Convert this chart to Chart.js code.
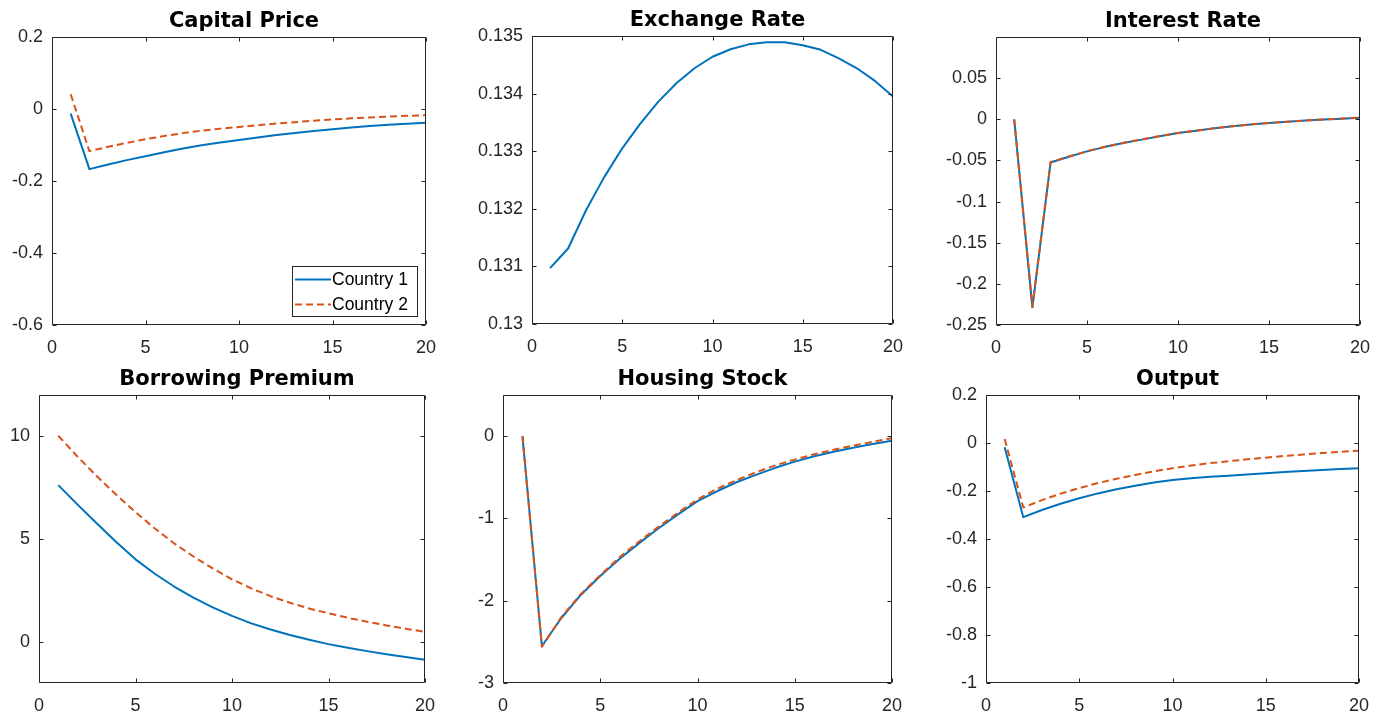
<!DOCTYPE html>
<html>
<head>
<meta charset="utf-8">
<script src="https://cdn.jsdelivr.net/npm/chart.js@4.4.1/dist/chart.umd.min.js"></script>
<style>
  html, body { margin: 0; padding: 0; background: #fff; overflow: hidden; }
  body { width: 1382px; height: 718px; position: relative; }
  canvas { position: absolute; }
</style>
</head>
<body>
<script>
// periods after the shock
const periods = [1, 2, 3, 4, 5, 6, 7, 8, 9, 10, 11, 12, 13, 14, 15, 16, 17, 18, 19, 20];
const seriesNames = ['Country 1', 'Country 2'];

const capPrice1 = [-0.013, -0.167, -0.154, -0.142, -0.131, -0.120, -0.110, -0.101, -0.093, -0.086, -0.079, -0.0725, -0.0665, -0.061, -0.056, -0.0515, -0.0475, -0.044, -0.041, -0.038];
const capPrice2 = [0.041, -0.117, -0.105, -0.094, -0.084, -0.075, -0.067, -0.060, -0.0545, -0.050, -0.045, -0.0405, -0.0365, -0.0325, -0.029, -0.026, -0.0235, -0.021, -0.019, -0.017];
const exRate1 = [0.13097, 0.13131, 0.13198, 0.13255, 0.13305, 0.13348, 0.13386, 0.13418, 0.13444, 0.13464, 0.13477, 0.134855, 0.13489, 0.13489, 0.13484, 0.13476, 0.13461, 0.13444, 0.13422, 0.13395];
const intRate1 = [0.000, -0.2285, -0.0525, -0.0455, -0.0390, -0.0335, -0.0288, -0.0247, -0.0205, -0.0168, -0.0138, -0.0110, -0.0085, -0.0063, -0.0045, -0.0030, -0.0015, -0.0003, 0.0008, 0.0020];
const intRate2 = [0.000, -0.2280, -0.0520, -0.0452, -0.0388, -0.0333, -0.0286, -0.0245, -0.0204, -0.0167, -0.0137, -0.0109, -0.0084, -0.0062, -0.0044, -0.0029, -0.0014, -0.0002, 0.0009, 0.0021];
const premium1 = [7.62, 6.67, 5.75, 4.85, 4.01, 3.31, 2.69, 2.15, 1.68, 1.26, 0.90, 0.60, 0.33, 0.10, -0.11, -0.29, -0.45, -0.60, -0.74, -0.87];
const premium2 = [10.02, 9.00, 8.05, 7.15, 6.31, 5.51, 4.79, 4.15, 3.57, 3.04, 2.60, 2.22, 1.90, 1.62, 1.39, 1.17, 0.98, 0.80, 0.64, 0.49];
const housing1 = [0.00, -2.55, -2.21, -1.93, -1.70, -1.49, -1.30, -1.12, -0.95, -0.79, -0.67, -0.56, -0.47, -0.385, -0.31, -0.245, -0.19, -0.14, -0.095, -0.055];
const housing2 = [0.00, -2.56, -2.20, -1.92, -1.69, -1.47, -1.28, -1.10, -0.93, -0.77, -0.64, -0.535, -0.44, -0.355, -0.285, -0.22, -0.165, -0.115, -0.07, -0.025];
const output1 = [-0.018, -0.309, -0.279, -0.253, -0.230, -0.210, -0.193, -0.178, -0.165, -0.154, -0.147, -0.141, -0.136, -0.131, -0.126, -0.121, -0.1165, -0.1125, -0.1085, -0.105];
const output2 = [0.017, -0.269, -0.238, -0.211, -0.188, -0.167, -0.149, -0.133, -0.118, -0.105, -0.094, -0.084, -0.076, -0.068, -0.061, -0.054, -0.048, -0.042, -0.037, -0.032];

// tick labels
const xTicks = [0, 5, 10, 15, 20];
const capTicks = [-0.6, -0.4, -0.2, 0, 0.2];
const exTicks = [0.13, 0.131, 0.132, 0.133, 0.134, 0.135];
const intTicks = [-0.25, -0.2, -0.15, -0.1, -0.05, 0, 0.05];
const premTicks = [0, 5, 10];
const houseTicks = [-3, -2, -1, 0];
const outTicks = [-1, -0.8, -0.6, -0.4, -0.2, 0, 0.2];

const BLUE = '#0072BD';
const ORANGE = '#D95319';
const AXIS = '#262626';

const panels = [
  { title: 'Capital Price', series: [capPrice1, capPrice2], yTicks: capTicks, yMin: -0.6, yMax: 0.2, left: 52, top: 37, w: 374, legend: true },
  { title: 'Exchange Rate', series: [exRate1], yTicks: exTicks, yMin: 0.13, yMax: 0.135, left: 532, top: 36, w: 361 },
  { title: 'Interest Rate', series: [intRate1, intRate2], yTicks: intTicks, yMin: -0.25, yMax: 0.1, left: 996, top: 37, w: 364 },
  { title: 'Borrowing Premium', series: [premium1, premium2], yTicks: premTicks, yMin: -2, yMax: 12, left: 39, top: 395, w: 386 },
  { title: 'Housing Stock', series: [housing1, housing2], yTicks: houseTicks, yMin: -3, yMax: 0.5, left: 503, top: 395, w: 389 },
  { title: 'Output', series: [output1, output2], yTicks: outTicks, yMin: -1, yMax: 0.2, left: 986, top: 395, w: 373 }
];

const Y_W = 64, TITLE_H = 37, PLOT_H = 288, X_H = 36, PAD_R = 30;

// box round the axes with MATLAB-style inward ticks on all four sides
const axesBox = {
  id: 'axesBox',
  afterLayout(chart) {
    // MATLAB's titles sit a little right of the axes centre
    if (chart.titleBlock) { chart.titleBlock.left += 5; chart.titleBlock.right += 5; }
  },
  afterDraw(chart) {
    const ctx = chart.ctx, a = chart.chartArea;
    const L = Math.round(a.left) + 0.5, R = Math.round(a.right) - 0.5;
    const T = Math.round(a.top) + 0.5, B = Math.round(a.bottom) - 0.5;
    ctx.save();
    ctx.strokeStyle = AXIS;
    ctx.lineWidth = 1;
    ctx.beginPath();
    ctx.rect(L, T, R - L, B - T);
    chart.scales.x.ticks.forEach(t => {
      const px = Math.round(chart.scales.x.getPixelForValue(t.value)) + 0.5;
      ctx.moveTo(px, B); ctx.lineTo(px, B - 4);
      ctx.moveTo(px, T); ctx.lineTo(px, T + 4);
    });
    chart.scales.y.ticks.forEach(t => {
      const py = Math.round(chart.scales.y.getPixelForValue(t.value)) + 0.5;
      ctx.moveTo(L, py); ctx.lineTo(L + 4, py);
      ctx.moveTo(R, py); ctx.lineTo(R - 4, py);
    });
    ctx.stroke();
    ctx.restore();
  }
};

// legend drawn inside the axes, lower right, from the dataset styles
const boxLegend = {
  id: 'boxLegend',
  afterDraw(chart) {
    const ctx = chart.ctx, a = chart.chartArea;
    const w = 125, h = 50;
    const x0 = Math.round(a.right - 9 - w), y0 = Math.round(a.bottom - 9 - h);
    ctx.save();
    ctx.fillStyle = '#fff';
    ctx.fillRect(x0, y0, w, h);
    ctx.strokeStyle = AXIS;
    ctx.lineWidth = 1;
    ctx.strokeRect(x0 + 0.5, y0 + 0.5, w, h);
    chart.data.datasets.forEach((ds, i) => {
      const cy = y0 + 13.5 + i * 25;
      ctx.strokeStyle = ds.borderColor;
      ctx.lineWidth = ds.borderWidth;
      ctx.setLineDash(ds.borderDash || []);
      ctx.beginPath();
      ctx.moveTo(x0 + 3, cy);
      ctx.lineTo(x0 + 39, cy);
      ctx.stroke();
      ctx.setLineDash([]);
      ctx.fillStyle = '#000';
      ctx.font = '17.5px "Liberation Sans", Arial, sans-serif';
      ctx.textBaseline = 'middle';
      ctx.textAlign = 'left';
      ctx.fillText(ds.label, x0 + 40, cy + 1);
    });
    ctx.restore();
  }
};

function fmt(v) {
  return String(Number(v.toFixed(4)));
}

panels.forEach(p => {
  const cv = document.createElement('canvas');
  const W = Y_W + p.w + PAD_R, H = TITLE_H + PLOT_H + X_H;
  cv.width = W; cv.height = H;
  cv.style.left = (p.left - Y_W) + 'px';
  cv.style.top = (p.top - TITLE_H) + 'px';
  cv.style.width = W + 'px'; cv.style.height = H + 'px';
  document.body.appendChild(cv);

  const datasets = p.series.map((vals, i) => ({
    label: seriesNames[i],
    data: periods.map((x, k) => ({ x: x, y: vals[k] })),
    borderColor: i === 0 ? BLUE : ORANGE,
    borderWidth: 2,
    borderDash: i === 0 ? [] : [7, 4],
    borderJoinStyle: 'round',
    pointRadius: 0,
    tension: 0,
    fill: false,
    order: i === 0 ? 1 : 0
  }));

  const tickFont = { family: '"Liberation Sans", Arial, sans-serif', size: 18 };

  new Chart(cv, {
    type: 'line',
    data: { datasets },
    options: {
      responsive: false,
      animation: false,
      events: [],
      layout: { padding: { left: 0, right: PAD_R, top: 0, bottom: 0 } },
      plugins: {
        legend: { display: false },
        tooltip: { enabled: false },
        title: {
          display: true,
          text: p.title,
          fullSize: false,
          color: '#000',
          font: { family: '"DejaVu Sans", sans-serif', weight: 'bold', size: 21, lineHeight: 1 },
          padding: { top: 11, bottom: 5 }
        }
      },
      scales: {
        x: {
          type: 'linear',
          min: 0, max: 20,
          grid: { display: false, drawTicks: false },
          border: { display: false },
          afterBuildTicks: s => { s.ticks = xTicks.map(v => ({ value: v })); },
          afterFit: s => { s.height = X_H; },
          ticks: { color: AXIS, font: tickFont, padding: 12, maxRotation: 0, autoSkip: false, callback: v => fmt(v) }
        },
        y: {
          min: p.yMin, max: p.yMax,
          grid: { display: false, drawTicks: false },
          border: { display: false },
          afterBuildTicks: s => { s.ticks = p.yTicks.map(v => ({ value: v })); },
          afterFit: s => { s.width = Y_W; },
          ticks: { color: AXIS, font: tickFont, padding: 9, autoSkip: false, callback: v => fmt(v) }
        }
      }
    },
    plugins: p.legend ? [axesBox, boxLegend] : [axesBox]
  });
});
</script>
</body>
</html>
